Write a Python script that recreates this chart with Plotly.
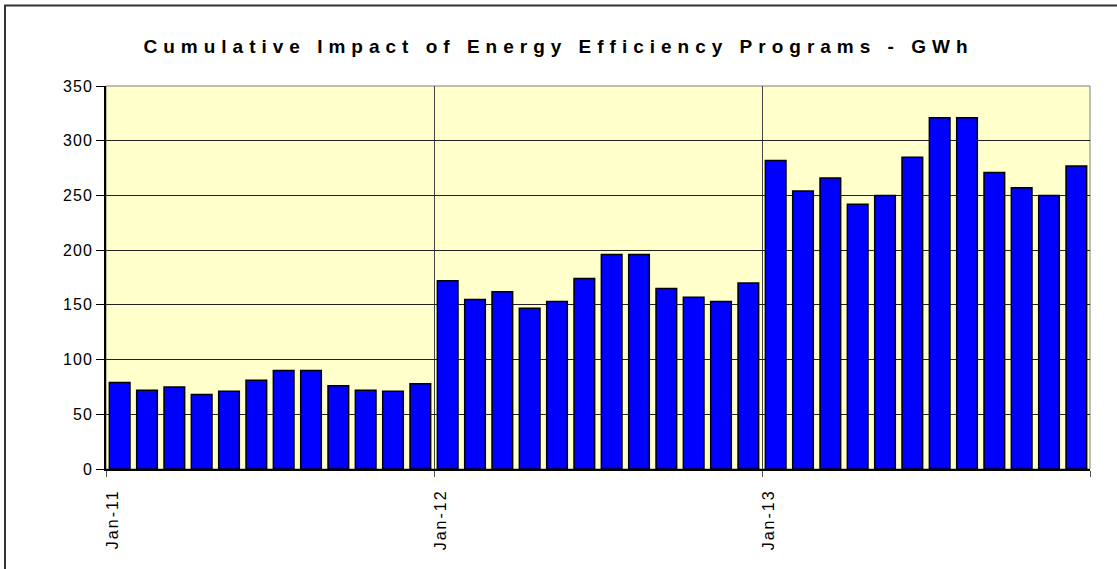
import numpy as np
import plotly.graph_objects as go

# ---- data ----
years = ["11", "12", "13"]
month_names = ["Jan", "Feb", "Mar", "Apr", "May", "Jun",
               "Jul", "Aug", "Sep", "Oct", "Nov", "Dec"]
months = [f"{m}-{y}" for y in years for m in month_names]

gwh_2011 = [79, 72, 75, 68, 71, 81, 90, 90, 76, 72, 71, 78]
gwh_2012 = [172, 155, 162, 147, 153, 174, 196, 196, 165, 157, 153, 170]
gwh_2013 = [282, 254, 266, 242, 250, 285, 321, 321, 271, 257, 250, 277]
values = gwh_2011 + gwh_2012 + gwh_2013

tick_labels = ["Jan-11", "Jan-12", "Jan-13"]
y_ticks = [0, 50, 100, 150, 200, 250, 300, 350]

# month index positions (bars centred inside each month slot)
x_pos = np.arange(len(months)) + 0.5
tick_pos = [months.index(t) for t in tick_labels] + [len(months)]

W, H = 1117, 569
ML, MR, MT, MB = 106, 27, 86, 100
pw = W - ML - MR
ph = H - MT - MB

FONT = "Arial, 'Liberation Sans', sans-serif"

fig = go.Figure()
fig.add_trace(go.Bar(
    x=x_pos, y=values, customdata=months,
    width=0.755,
    marker=dict(color="#0000FF", line=dict(color="#000000", width=1.5)),
    hovertemplate="%{customdata}: %{y}<extra></extra>",
))

# outer frame of the chart (extends off the right/bottom edges like the reference)
fig.add_shape(type="rect", xref="paper", yref="paper",
              x0=(5 - ML) / pw, x1=(W + 10 - ML) / pw,
              y0=-(MB + 10) / ph, y1=(H - MB - 5.5) / ph,
              line=dict(color="#333333", width=2), fillcolor="rgba(0,0,0,0)",
              layer="above")
# plot-area border (grey)
fig.add_shape(type="rect", xref="paper", yref="paper", x0=0, x1=1, y0=0, y1=1,
              line=dict(color="#7f7f7f", width=1), fillcolor="rgba(0,0,0,0)",
              layer="below")

fig.update_layout(
    width=W, height=H,
    margin=dict(l=ML, r=MR, t=MT, b=MB),
    paper_bgcolor="#FFFFFF",
    plot_bgcolor="#FFFFCC",
    showlegend=False,
    bargap=0.245,
    title=dict(text="<b>Cumulative Impact of Energy Efficiency Programs - GWh</b>",
               x=0.5, xanchor="center", y=1 - 46 / H, yanchor="middle",
               font=dict(family=FONT, size=19, color="#000000")),
    xaxis=dict(
        range=[0, len(months)],
        tickmode="array", tickvals=tick_pos, ticktext=tick_labels + [""],
        tickangle=-90,
        ticks="outside", ticklen=6, tickcolor="#555555", tickwidth=1,
        ticklabelshift=7, ticklabelstandoff=6,
        showgrid=True, gridcolor="#444444", gridwidth=1,
        showline=True, linecolor="#000000", linewidth=2,
        tickfont=dict(family=FONT, size=16, color="#000000"),
        zeroline=False,
    ),
    yaxis=dict(
        range=[0, 350],
        tickmode="array", tickvals=y_ticks,
        ticks="outside", ticklen=8, tickcolor="#000000", tickwidth=1,
        showgrid=True, gridcolor="#222222", gridwidth=1,
        showline=True, linecolor="#000000", linewidth=2,
        tickfont=dict(family=FONT, size=16, color="#000000"),
        zeroline=False,
    ),
)

post = """
document.body.style.margin = '0';
document.body.style.overflow = 'hidden';
var gd = document.getElementById('{plot_id}');
function sp(){
  gd.querySelectorAll('.gtitle').forEach(function(e){e.setAttribute('letter-spacing','6px');});
  gd.querySelectorAll('.xtick text').forEach(function(e){e.setAttribute('letter-spacing','2px');});
  gd.querySelectorAll('.ytick text').forEach(function(e){e.setAttribute('letter-spacing','1px');});
}
sp();
gd.on('plotly_afterplot', sp);
"""

fig.write_html("out.html", post_script=post, config={"displayModeBar": False})
